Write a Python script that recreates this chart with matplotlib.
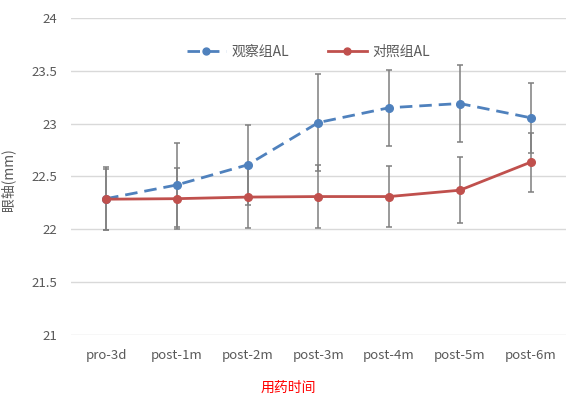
import matplotlib
matplotlib.use('Agg')
import matplotlib.pyplot as plt
from matplotlib.lines import Line2D

plt.rcParams['font.family'] = ['Noto Sans CJK SC', 'DejaVu Sans']

# axial length per visit, mean and SD
visits = ['pro-3d', 'post-1m', 'post-2m', 'post-3m', 'post-4m', 'post-5m', 'post-6m']
obs_mean = [22.29, 22.42, 22.61, 23.01, 23.15, 23.19, 23.055]
obs_sd = [0.30, 0.40, 0.38, 0.46, 0.36, 0.36, 0.33]
ctrl_mean = [22.285, 22.29, 22.305, 22.31, 22.31, 22.37, 22.635]
ctrl_sd = [0.29, 0.29, 0.29, 0.30, 0.29, 0.31, 0.28]

text_gray = '#595959'
blue = '#4F81BD'
red = '#C0504D'
err_gray = '#7F7F7F'

fig = plt.figure(figsize=(5.66, 3.97), dpi=100)
ax = fig.add_axes([0.125, 0.156, 0.875, 0.799])

x = list(range(len(visits)))
ax.errorbar(x, obs_mean, yerr=obs_sd, color=blue, ecolor=err_gray, elinewidth=1.1,
            capsize=2.5, capthick=1.1, lw=2, dashes=(4.5, 2.5), marker='o', ms=5.5,
            zorder=3)
ax.errorbar(x, ctrl_mean, yerr=ctrl_sd, color=red, ecolor=err_gray, elinewidth=1.1,
            capsize=2.5, capthick=1.1, lw=2, marker='o', ms=5.5, zorder=3)

ax.set_xlim(-0.5, len(visits) - 0.5)
ax.set_ylim(21, 24)
ax.set_yticks([21, 21.5, 22, 22.5, 23, 23.5, 24])
ax.set_yticklabels(['21', '21.5', '22', '22.5', '23', '23.5', '24'])
ax.set_xticks(x)
ax.set_xticklabels(visits)
ax.tick_params(colors=text_gray, labelsize=9.5, length=0, pad=10)
ax.tick_params(axis='y', pad=10)
ax.grid(axis='y', color='#D9D9D9', lw=1)
ax.set_axisbelow(True)
for s in ax.spines.values():
    s.set_visible(False)

ax.set_ylabel('眼轴(mm)', color=text_gray, fontsize=10)
ax.yaxis.set_label_coords(-0.112, 0.49)
fig.text(0.51, 0.012, '用药时间', color='#FF0000', fontsize=10, ha='center')

handles = [
    Line2D([], [], color=blue, lw=2, dashes=(4.5, 2.5), marker='o', ms=5),
    Line2D([], [], color=red, lw=2, marker='o', ms=5),
]
ax.legend(handles, ['观察组AL', '对照组AL'], loc='upper center',
          bbox_to_anchor=(0.48, 0.955), ncol=2, frameon=False, fontsize=10,
          labelcolor=text_gray, handlelength=2.8, handletextpad=0.4,
          columnspacing=2.8)

fig.savefig('out.png', dpi=100)
plt.close()
